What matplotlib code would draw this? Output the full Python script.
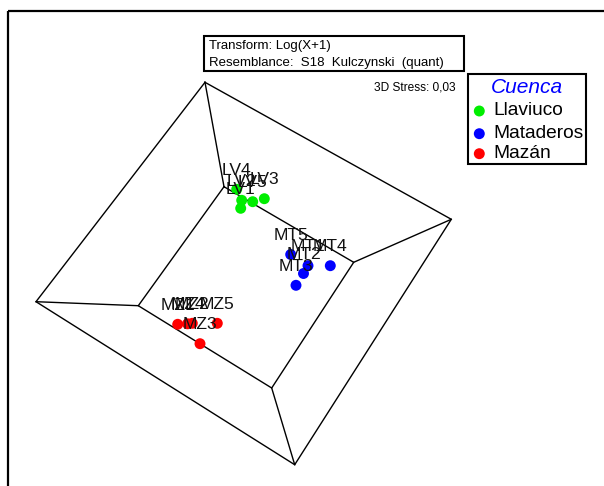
"""
3D nMDS ordination of sampling sites by basin (Cuenca), shown as the
projected 3D box with site labels, PRIMER-style.
"""
import numpy as np
import matplotlib.pyplot as plt
from matplotlib.patches import Rectangle

plt.rcParams["font.family"] = ["Liberation Sans", "DejaVu Sans"]

# projected ordination coordinates (screen units of the 3D view)
BOX_OUTER = np.array([[205.0, 82.3], [451.3, 219.3], [294.7, 464.7], [36.0, 301.7]])
BOX_INNER = np.array([[224.0, 186.7], [353.7, 262.3], [271.7, 388.0], [138.3, 305.7]])

LV_LABELS = ["LV4", "LV2", "LV5", "LV3", "LV1"]
LV_X = [236.7, 241.7, 252.7, 264.3, 240.7]
LV_Y = [189.3, 200.3, 201.7, 198.7, 208.3]

MT_LABELS = ["MT5", "MT1", "MT2", "MT4", "MT3"]
MT_X = [290.7, 308.0, 303.5, 330.3, 296.0]
MT_Y = [254.5, 265.7, 273.5, 265.7, 285.3]

MZ_LABELS = ["MZ1", "MZ4", "MZ2", "MZ5", "MZ3"]
MZ_X = [177.7, 187.5, 192.3, 217.3, 200.0]
MZ_Y = [324.3, 323.8, 323.3, 323.3, 343.7]

GROUPS = [
    ("Llaviuco", "#00ee00", LV_X, LV_Y, LV_LABELS),
    ("Mataderos", "#0000ff", MT_X, MT_Y, MT_LABELS),
    ("Mazán", "#ff0000", MZ_X, MZ_Y, MZ_LABELS),
]

fig = plt.figure(figsize=(6.04, 4.86), dpi=100)
ax = fig.add_axes([0, 0, 1, 1])
ax.set_xlim(0, 604)
ax.set_ylim(486, 0)
ax.axis("off")

# outer frame (runs off the right/bottom edge)
ax.add_patch(Rectangle((8.3, 10.7), 620, 500, fill=False, lw=1.6,
                       ec="black", clip_on=False))

# 3D box: two quads plus the four connecting edges
lw = 1.0
for quad in (BOX_OUTER, BOX_INNER):
    q = np.vstack([quad, quad[:1]])
    ax.plot(q[:, 0], q[:, 1], color="black", lw=lw, zorder=1)
for a, b in zip(BOX_OUTER, BOX_INNER):
    ax.plot([a[0], b[0]], [a[1], b[1]], color="black", lw=lw, zorder=1)

for name, col, xs, ys, labs in GROUPS:
    ax.scatter(xs, ys, s=62, color=col, edgecolors="none", zorder=3)
    for x, y, lab in zip(xs, ys, labs):
        ax.annotate(lab, (x, y), xytext=(0, 10.3), textcoords="offset points",
                    ha="center", va="baseline", fontsize=12.6, color="#111111",
                    zorder=4)

# transform / resemblance box
ax.add_patch(Rectangle((204, 36), 260, 35, fill=False, lw=1.5, ec="black"))
ax.text(208.7, 49, "Transform: Log(X+1)", fontsize=9.5, va="baseline")
ax.text(208.7, 65.7, "Resemblance:  S18  Kulczynski  (quant)", fontsize=9.5,
        va="baseline")
ax.text(456, 90, "3D Stress: 0,03", fontsize=8.6, ha="right", va="baseline")

# legend
ax.add_patch(Rectangle((468, 74), 118, 90, fill=False, lw=1.5, ec="black"))
ax.text(527, 92.7, "Cuenca", fontsize=15, style="italic", color="#0000ff",
        ha="center", va="baseline")
for i, (name, col, *_rest) in enumerate(GROUPS):
    yb = [115, 137.7, 157.7][i]
    ax.scatter([479.3], [yb - 4], s=62, color=col, edgecolors="none")
    ax.text(493.7, yb, name, fontsize=13.8, va="baseline")

fig.savefig("out.png", dpi=100)
